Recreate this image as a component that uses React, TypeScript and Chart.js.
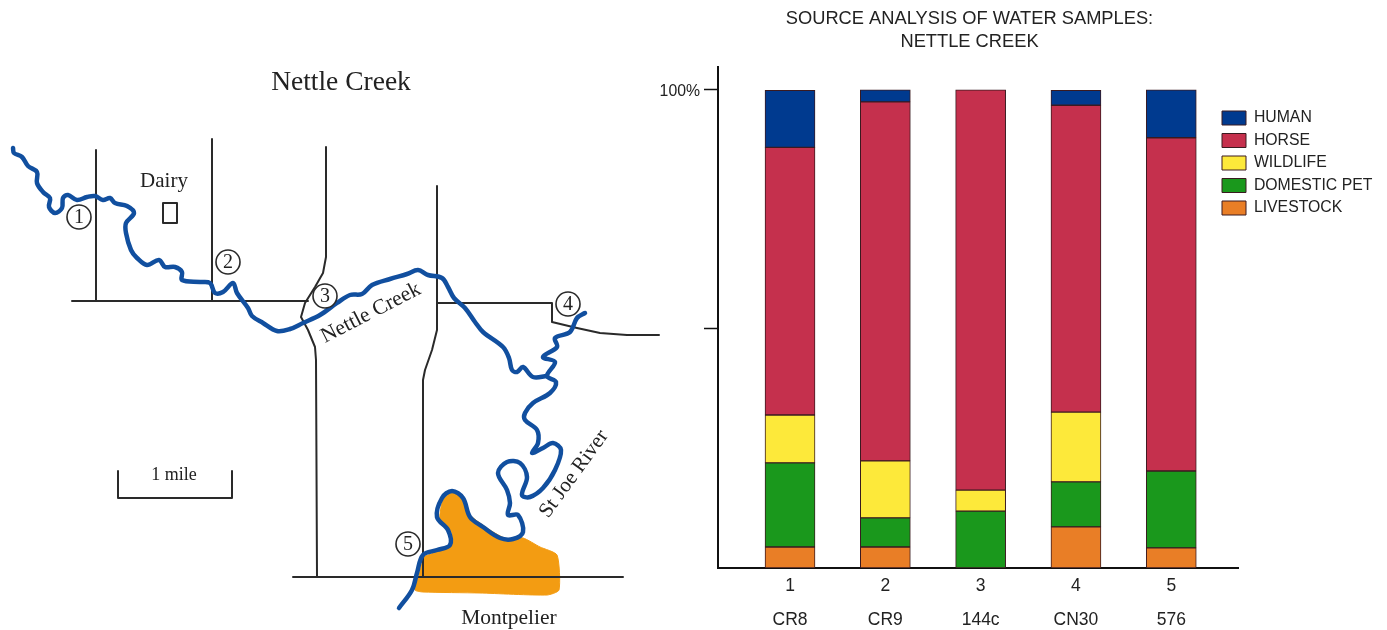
import React, { useEffect, useRef } from "react";
import { Chart, registerables } from "chart.js";

Chart.register(...registerables);

// ---------- bar chart data ----------
const samplePositions = [1, 2, 3, 4, 5];
const sampleNumbers = ["1", "2", "3", "4", "5"];
const sampleSites = ["CR8", "CR9", "144c", "CN30", "576"];
const livestock = [4.4, 4.4, null, 8.6, 4.2];
const domesticPet = [17.6, 6.1, 11.9, 9.4, 16.1];
const wildlife = [10.0, 11.9, 4.4, 14.6, null];
const horse = [56.0, 75.1, 83.7, 64.2, 69.7];
const human = [11.9, 2.5, null, 3.1, 10.0];

// ---------- map data (map units) ----------
type P = [number, number];
const nettleCreek: P[] = [[13,148],[14,153],[22,157],[28,166],[37,172],[37,183],[43,192],[50,198],[49,207],[55,213],[62,208],[63,198],[68,195],[77,200],[87,197],[95,196],[103,200],[110,198],[115,203],[127,206],[134,213],[126,223],[126,233],[131,250],[137,258],[147,265],[159,260],[165,267],[175,267],[182,272],[182,280],[200,282],[210,283],[215,293],[223,292],[233,283],[237,293],[248,308],[252,316],[263,323],[277,331],[290,329],[303,323],[320,315],[337,303],[350,295],[362,294],[372,285],[390,279],[407,274],[418,270],[428,275],[442,278],[448,287],[454,298],[465,308],[475,322],[483,332],[503,347],[509,358],[512,370],[517,372],[523,367],[533,377],[547,376]];
const stJoeRiver: P[] = [[585,313],[577,318],[570,332],[555,338],[557,347],[543,357],[555,362],[547,376],[556,382],[550,393],[533,403],[525,413],[525,420],[537,430],[538,443],[532,453],[543,448],[553,443],[561,450],[555,470],[543,488],[530,497],[522,495],[527,477],[520,463],[507,462],[498,473],[507,490],[510,503],[508,515],[518,515],[523,532],[513,539],[500,538],[483,527],[470,517],[463,498],[452,491],[442,498],[437,517],[448,530],[450,545],[437,550],[423,555],[417,573],[412,590],[399,608]];
const montpelierArea: P[] = [[423,557],[447,547],[452,533],[440,520],[443,500],[453,492],[463,500],[470,515],[490,530],[507,539],[523,538],[540,547],[557,555],[559,590],[547,595],[480,593],[423,592],[415,590],[418,577]];
const roads: P[][] = [
  [[96,150],[96,301]],
  [[212,139],[212,301]],
  [[72,301],[308,301]],
  [[326,147],[326,257],[323,273],[315,287],[305,303],[301,317],[308,330],[315,347],[316,360],[317,577]],
  [[437,186],[437,330],[432,350],[425,370],[423,380],[423,577]],
  [[437,303],[552,303],[552,322],[577,328],[600,333],[627,335],[659,335]],
  [[293,577],[623,577]],
  [[163,203],[177,203],[177,223],[163,223],[163,203]],
  [[118,471],[118,498],[232,498],[232,471]],
];
const siteMarkers: P[] = [[79,217],[228,262],[325,296],[568,304],[408,544]];
const siteMarkerNames = ["1", "2", "3", "4", "5"];
const mapTexts: { t: string; at: P; size: number; rot?: number }[] = [
  { t: "Nettle Creek", at: [341, 83], size: 27.5 },
  { t: "Dairy", at: [164, 181], size: 21 },
  { t: "1 mile", at: [174, 475], size: 18 },
  { t: "Montpelier", at: [509, 618], size: 21.5 },
  { t: "Nettle Creek", at: [371, 313], size: 21.5, rot: -27.3 },
  { t: "St Joe River", at: [574, 474], size: 21, rot: -54 },
];

const SERIF = '"Liberation Serif"';
const SANS = '"Liberation Sans"';
const INK = "#2a2a2a";
const BAR_EDGE = "#3a1a20";
const toXY = (a: P[]) => a.map(([x, y]) => ({ x, y }));

const mapTextPlugin = {
  id: "mapTexts",
  afterDatasetsDraw(chart: any) {
    const { ctx, scales } = chart;
    ctx.save();
    ctx.fillStyle = "#222";
    ctx.textAlign = "center";
    ctx.textBaseline = "middle";
    for (const m of mapTexts) {
      ctx.save();
      ctx.translate(scales.x.getPixelForValue(m.at[0]), scales.y.getPixelForValue(m.at[1]));
      if (m.rot) ctx.rotate((m.rot * Math.PI) / 180);
      ctx.font = `${m.size}px ${SERIF}`;
      ctx.fillText(m.t, 0, 0);
      ctx.restore();
    }
    ctx.font = `20px ${SERIF}`;
    siteMarkers.forEach((p, i) => {
      ctx.fillText(siteMarkerNames[i], scales.x.getPixelForValue(p[0]), scales.y.getPixelForValue(p[1]) + 1);
    });
    ctx.restore();
  },
};

const pinBlocksPlugin = {
  id: "pinBlocks",
  afterLayout(chart: any) {
    const l = chart.legend;
    if (l) {
      l.left = 565.3;
      l.right = 737;
      l.top = 103.4;
      l.bottom = 280;
    }
    const t = chart.titleBlock;
    if (t) {
      t.left = 59.5;
      t.right = 579.5;
      t.width = 520;
    }
  },
};

export default function App() {
  const mapRef = useRef<HTMLCanvasElement>(null);
  const barRef = useRef<HTMLCanvasElement>(null);

  useEffect(() => {
    const lineBase = { showLine: true, pointRadius: 0, borderCapStyle: "round", borderJoinStyle: "round" };
    const map = new Chart(mapRef.current!, {
      type: "scatter",
      data: {
        datasets: [
          {
            data: toXY(siteMarkers),
            showLine: false,
            pointRadius: 12,
            pointBackgroundColor: "#ffffff",
            pointBorderColor: INK,
            pointBorderWidth: 1.6,
          },
          { ...lineBase, data: toXY(nettleCreek), borderColor: "#114f9f", borderWidth: 4.5, tension: 0.35 },
          { ...lineBase, data: toXY(stJoeRiver), borderColor: "#114f9f", borderWidth: 4.5, tension: 0.35 },
          ...roads.map((r) => ({ ...lineBase, data: toXY(r), borderColor: INK, borderWidth: 2, tension: 0 })),
          {
            ...lineBase,
            data: toXY(montpelierArea),
            borderColor: "#f39c12",
            borderWidth: 1,
            backgroundColor: "#f39c12",
            fill: "shape",
            tension: 0.2,
          },
        ] as any,
      },
      options: {
        responsive: false,
        animation: false,
        layout: { padding: 0, autoPadding: false },
        events: [],
        plugins: { legend: { display: false }, title: { display: false }, tooltip: { enabled: false } },
        scales: {
          x: { type: "linear", min: 0, max: 660, display: false },
          y: { type: "linear", min: 0, max: 630, reverse: true, display: false },
        },
      },
      plugins: [mapTextPlugin],
    } as any);

    const series = [
      ["LIVESTOCK", livestock, "#e97e26"],
      ["DOMESTIC PET", domesticPet, "#1a981c"],
      ["WILDLIFE", wildlife, "#fde93a"],
      ["HORSE", horse, "#c5304d"],
      ["HUMAN", human, "#003a8f"],
    ] as const;

    const bar = new Chart(barRef.current!, {
      type: "bar",
      data: {
        labels: samplePositions as any,
        datasets: series.map(([label, data, color]) => ({
          label,
          data: data as any,
          backgroundColor: color,
          borderColor: BAR_EDGE,
          borderWidth: 1,
          borderSkipped: false,
          barThickness: 50,
        })),
      },
      options: {
        responsive: false,
        animation: false,
        events: [],
        layout: { padding: { left: 0, top: 0, bottom: 0, right: 149 }, autoPadding: false },
        plugins: {
          tooltip: { enabled: false },
          title: {
            display: true,
            text: ["SOURCE ANALYSIS OF WATER SAMPLES:", "NETTLE CREEK"],
            fullSize: false,
            color: "#222",
            font: { family: SANS, size: 18.3, weight: "normal", lineHeight: 23 / 18.3 },
            padding: { top: 7, bottom: 14 },
          },
          legend: {
            position: "chartArea",
            align: "start",
            reverse: true,
            labels: {
              boxWidth: 24,
              boxHeight: 14,
              padding: 6.7,
              color: "#222",
              font: { family: SANS, size: 15.8 },
            },
          },
        },
        scales: {
          x: {
            type: "linear",
            stacked: true,
            offset: false,
            min: 0.2445,
            max: 5.7,
            afterBuildTicks: (s: any) => {
              s.ticks = samplePositions.map((value) => ({ value }));
            },
            afterFit: (s: any) => {
              s.height = 62;
            },
            border: { display: true, color: "#111", width: 2 },
            grid: { display: false, drawTicks: false, offset: false },
            ticks: {
              padding: 1,
              maxRotation: 0,
              autoSkip: false,
              color: "#222",
              font: { family: SANS, size: 17.5, lineHeight: 34 / 17.5 },
              callback: (v: any) => {
                const i = samplePositions.indexOf(v);
                return [sampleNumbers[i], sampleSites[i]];
              },
            },
          },
          y: {
            stacked: true,
            min: 0,
            max: 104.8,
            afterBuildTicks: (s: any) => {
              s.ticks = [{ value: 50 }, { value: 100 }];
            },
            afterFit: (s: any) => {
              s.width = 68;
            },
            border: { display: true, color: "#111", width: 2 },
            grid: { drawOnChartArea: false, drawTicks: true, tickLength: 14, tickColor: "#111", tickWidth: 1.5 },
            ticks: {
              padding: 4,
              labelOffset: 1.5,
              color: "#222",
              font: { family: SANS, size: 15.8 },
              callback: (v: any) => (v === 100 ? "100%" : ""),
            },
          },
        },
      },
      plugins: [pinBlocksPlugin],
    } as any);

    return () => {
      map.destroy();
      bar.destroy();
    };
  }, []);

  const blur = "blur(0.45px)";
  return (
    <div style={{ position: "absolute", left: 0, top: 0, width: 1387, height: 630, background: "#fff", overflow: "hidden" }}>
      <canvas ref={mapRef} width={660} height={630} style={{ position: "absolute", left: 0, top: 0, filter: blur }} />
      <canvas ref={barRef} width={737} height={630} style={{ position: "absolute", left: 650, top: 0, filter: blur }} />
    </div>
  );
}
